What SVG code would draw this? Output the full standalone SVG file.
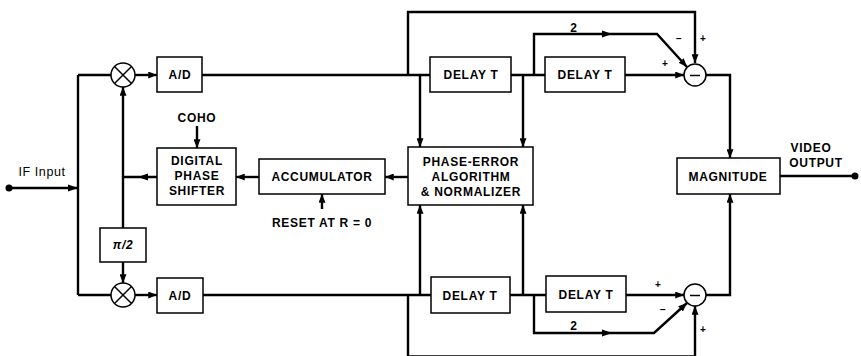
<svg xmlns="http://www.w3.org/2000/svg" width="861" height="356" viewBox="0 0 861 356">
<defs>
<marker id="ah" viewBox="0 0 10 8" refX="10" refY="4" markerWidth="9" markerHeight="7" markerUnits="userSpaceOnUse" orient="auto">
<path d="M0,0 L10,4 L0,8 z" fill="#000"/>
</marker>
</defs>
<style>
.box{fill:#fff;stroke:#000;stroke-width:1.5}
.ln{fill:none;stroke:#000;stroke-width:2.4;stroke-linejoin:miter}
.ar{marker-end:url(#ah)}
.sym{fill:#fff;stroke:#000;stroke-width:1.5}
.t{font-family:"Liberation Sans",Arial,sans-serif;font-weight:bold;font-size:12px;letter-spacing:0.7px;text-anchor:middle;fill:#000}
.s{font-family:"Liberation Sans",Arial,sans-serif;font-weight:bold;font-size:10px;text-anchor:middle;fill:#000}
.h{fill:#000}
</style>
<rect width="861" height="356" fill="#fff"/>
<g id="connectors">
<path class="ln" d="M9,188 H78"/>
<polygon class="h" points="78,188 68,184.5 68,191.5"/>
<path class="ln" d="M78,75 V295"/>
<path class="ln" d="M78,75 H111"/>
<path class="ln" d="M78,295 H111"/>
<path class="ln ar" d="M135,75 H157"/>
<path class="ln ar" d="M135,295 H157"/>
<path class="ln ar" d="M123,228 V87"/>
<path class="ln" d="M157,177 H123"/>
<polygon class="h" points="138,177 148,173.5 148,180.5"/>
<path class="ln ar" d="M123,262 V283"/>
<path class="ln ar" d="M197,126 V148"/>
<path class="ln ar" d="M259,177 H236"/>
<path class="ln ar" d="M408,177 H385"/>
<path class="ln ar" d="M322,209 V194"/>
<path class="ln" d="M202,75 H430"/>
<path class="ln ar" d="M408,75 V12 H695 V63"/>
<path class="ln ar" d="M420,75 V147"/>
<path class="ln" d="M511,75 H545"/>
<path class="ln ar" d="M523,75 V147"/>
<path class="ln ar" d="M534,75 V34 H657 L687,67"/>
<polygon class="h" points="612,34 602,30.5 602,37.5"/>
<path class="ln ar" d="M625,75 H684"/>
<path class="ln ar" d="M706,75 H730 V158"/>
<path class="ln" d="M780,176 H855"/>
<path class="ln" d="M203,295 H431"/>
<path class="ln ar" d="M408,295 V356.5 H695 V306"/>
<path class="ln ar" d="M420,295 V205"/>
<path class="ln" d="M510,295 H546"/>
<path class="ln ar" d="M523,295 V205"/>
<path class="ln ar" d="M534,295 V333 H654 L687,303"/>
<polygon class="h" points="612,333 602,329.5 602,336.5"/>
<path class="ln ar" d="M626,295 H684"/>
<path class="ln ar" d="M706,295 H730 V194"/>
<circle cx="9" cy="188" r="3.5" fill="#000"/>
<circle cx="855" cy="176" r="3.5" fill="#000"/>
</g>
<g id="mixer-top">
<circle class="sym" cx="123" cy="75" r="12"/>
<path d="M114.5,66.5 L131.5,83.5 M131.5,66.5 L114.5,83.5" stroke="#000" stroke-width="1.5"/>
</g>
<g id="mixer-bottom">
<circle class="sym" cx="123" cy="295" r="12"/>
<path d="M114.5,286.5 L131.5,303.5 M131.5,286.5 L114.5,303.5" stroke="#000" stroke-width="1.5"/>
</g>
<g id="ad-top"><rect class="box" x="157" y="57" width="45" height="35"/><text class="t" x="180" y="79">A/D</text></g>
<g id="ad-bottom"><rect class="box" x="157" y="278" width="46" height="35"/><text class="t" x="180" y="300">A/D</text></g>
<g id="pi2"><rect class="box" x="100" y="228" width="46" height="34"/><text class="t" x="123" y="249" style="font-style:italic">π/2</text></g>
<g id="phase-shifter"><rect class="box" x="157" y="148" width="79" height="57"/>
<text class="t" x="197" y="165">DIGITAL</text><text class="t" x="197" y="180">PHASE</text><text class="t" x="197" y="195">SHIFTER</text></g>
<g id="coho"><text class="t" x="197" y="122">COHO</text></g>
<g id="accumulator"><rect class="box" x="259" y="159" width="126" height="35"/><text class="t" x="322" y="181">ACCUMULATOR</text></g>
<g id="reset"><text class="t" x="322" y="227">RESET AT R = 0</text></g>
<g id="phase-error"><rect class="box" x="408" y="147" width="125" height="58"/>
<text class="t" x="471" y="166">PHASE-ERROR</text><text class="t" x="471" y="181">ALGORITHM</text><text class="t" x="471" y="196">&amp; NORMALIZER</text></g>
<g id="delay-top-1"><rect class="box" x="430" y="57" width="81" height="35"/><text class="t" x="471" y="79">DELAY T</text></g>
<g id="delay-top-2"><rect class="box" x="545" y="57" width="80" height="35"/><text class="t" x="585" y="79">DELAY T</text></g>
<g id="delay-bottom-1"><rect class="box" x="431" y="277" width="79" height="36"/><text class="t" x="470" y="300">DELAY T</text></g>
<g id="delay-bottom-2"><rect class="box" x="546" y="276" width="80" height="36"/><text class="t" x="586" y="299">DELAY T</text></g>
<g id="sub-top"><circle class="sym" cx="695" cy="75" r="11"/><path d="M690,75.5 H700" stroke="#000" stroke-width="1.5"/></g>
<g id="sub-bottom"><circle class="sym" cx="695" cy="295" r="11"/><path d="M690,295.5 H700" stroke="#000" stroke-width="1.5"/></g>
<g id="magnitude"><rect class="box" x="677" y="158" width="103" height="36"/><text class="t" x="728" y="181">MAGNITUDE</text></g>
<g id="labels">
<text x="42" y="176" style="font-family:'Liberation Sans',Arial,sans-serif;font-size:12.5px;letter-spacing:0.6px;text-anchor:middle">IF Input</text>
<text class="t" x="811" y="152">VIDEO</text>
<text class="t" x="816" y="167">OUTPUT</text>
<text class="t" x="574" y="32">2</text>
<text class="t" x="574" y="330">2</text>
<text class="s" x="679" y="42">−</text>
<text class="s" x="703" y="42">+</text>
<text class="s" x="665" y="67">+</text>
<text class="s" x="658" y="288">+</text>
<text class="s" x="663" y="313">−</text>
<text class="s" x="703" y="333">+</text>
</g>
</svg>
